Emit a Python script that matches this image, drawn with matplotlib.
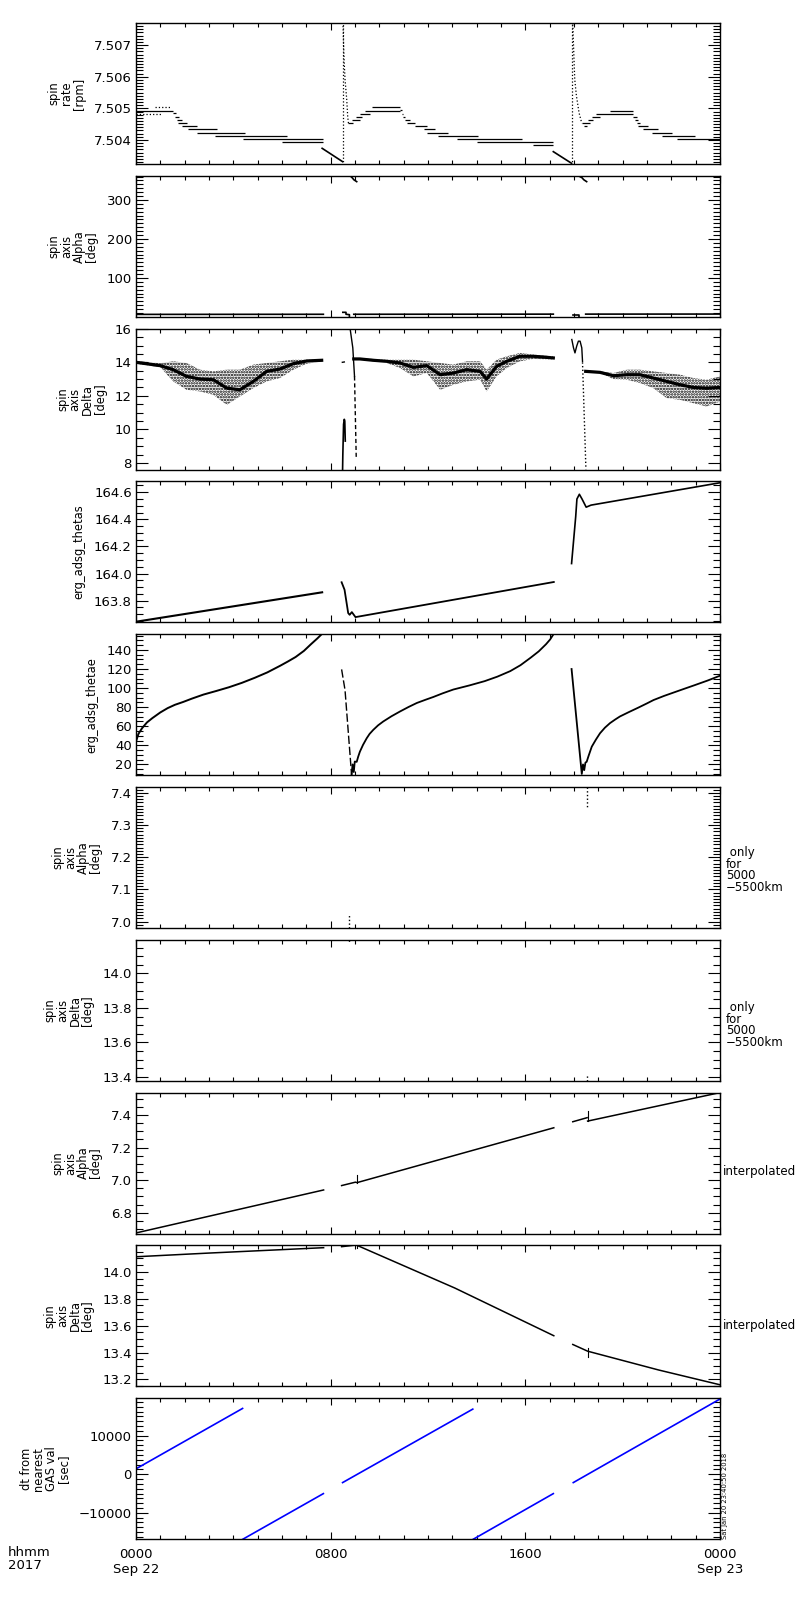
import matplotlib
matplotlib.use("Agg")
import matplotlib.pyplot as plt
from matplotlib.ticker import MultipleLocator, FixedLocator, FuncFormatter

plt.rcParams['font.family'] = ['DejaVu Sans']
plt.rcParams['axes.linewidth'] = 1.0
plt.rcParams['hatch.linewidth'] = 1.2

# ---------------- data ----------------
time_major_ticks = [0, 8, 16, 24]
time_major_labels = ['0000\nSep 22', '0800', '1600', '0000\nSep 23']

# Panel 1: spin rate [rpm] - quantised staircase
rate_step_t0 = [0.00, 1.53, 1.60, 1.67, 1.74, 1.88, 2.15, 2.49, 3.25, 4.41, 5.99,
                8.73, 8.86, 9.05, 9.21, 9.41, 9.69,
                10.85, 10.92, 10.99, 11.06, 11.12, 11.47, 11.85, 11.95, 12.43, 13.18, 14.00, 16.30,
                18.32, 18.40, 18.59, 18.73, 18.91, 19.48, 20.44, 20.51, 20.58, 20.65, 20.85,
                21.19, 21.61, 22.22]
rate_step_t1 = [1.53, 1.64, 1.77, 1.88, 2.08, 2.49, 3.31, 4.48, 6.19, 7.70, 7.70,
                8.93, 9.21, 9.30, 9.62, 10.85, 10.85,
                10.92, 10.99, 11.06, 11.26, 11.47, 11.95, 12.30, 12.84, 14.07, 15.85, 17.15, 17.15,
                18.66, 18.53, 18.80, 19.07, 20.44, 20.44, 20.58, 20.65, 20.71, 21.06, 21.47,
                22.02, 22.97, 24.00]
rate_step_v = [7.504916, 7.504842, 7.504737, 7.504632, 7.504526, 7.504442, 7.504337,
               7.504211, 7.504116, 7.504021, 7.503926,
               7.504526, 7.504632, 7.504726, 7.504811, 7.504916, 7.505032,
               7.504947, 7.504811, 7.504716, 7.504632, 7.504526, 7.504442, 7.504337,
               7.504211, 7.504116, 7.504021, 7.503926, 7.503832,
               7.504526, 7.504442, 7.504632, 7.504716, 7.504811, 7.504916, 7.504716,
               7.504632, 7.504526, 7.504442, 7.504337, 7.504211, 7.504116, 7.504021]
rate_dot_t0 = [0.78, 0.00]
rate_dot_t1 = [1.42, 1.05]
rate_dot_v = [7.505032, 7.504811]
rate_ramp1_t = [7.65, 8.49]
rate_ramp1_v = [7.503737, 7.503316]
rate_ramp2_t = [17.15, 17.90]
rate_ramp2_v = [7.503632, 7.503264]
rate_vert_t = [8.49, 17.92]
rate_spike1_t = [8.51, 8.53, 8.55, 8.59, 8.66, 8.70, 8.73]
rate_spike1_v = [7.50760, 7.50700, 7.50656, 7.50592, 7.50528, 7.50474, 7.50453]
rate_spike2_t = [17.95, 17.98, 18.00, 18.03, 18.10, 18.21, 18.32]
rate_spike2_v = [7.50765, 7.50700, 7.50656, 7.50592, 7.50539, 7.50485, 7.50453]

# Panel 2: spin axis alpha [deg] (full range)
alpha_seg1_t = [0.0, 7.70]
alpha_seg1_v = [6.68, 6.94]
alpha_seg2_t = [8.95, 17.15]
alpha_seg2_v = [6.98, 7.32]
alpha_seg3_t = [18.48, 24.0]
alpha_seg3_v = [7.37, 7.54]
alpha_wrap1_t = [8.80, 8.90, 8.95, 9.07]
alpha_wrap1_v = [362, 356, 352, 347]
alpha_wrap2_t = [18.21, 18.33, 18.40, 18.52]
alpha_wrap2_v = [361, 357, 352, 347]
alpha_blip1_t = [8.50, 8.63, 8.63, 8.77, 8.77]
alpha_blip1_v = [12, 12, 7, 6, 1]
alpha_blip2_t = [17.95, 18.20, 18.20]
alpha_blip2_v = [4, 4, 1]

# Panel 3: spin axis delta [deg] - noisy band (core, upper and lower envelope)
delta1_t = [0.0, 1.0, 1.53, 2.08, 2.63, 3.18, 3.73, 4.27, 4.82, 5.37, 5.92, 6.47, 7.02, 7.63]
delta1_core = [14.0, 13.8, 13.56, 13.16, 13.0, 12.96, 12.46, 12.36, 12.86, 13.46, 13.6, 13.92, 14.08, 14.12]
delta1_hi = [14.08, 13.95, 14.06, 13.96, 13.56, 13.46, 13.56, 13.56, 13.86, 13.96, 14.06, 14.16, 14.16, 14.16]
delta1_lo = [13.92, 13.70, 12.86, 12.36, 12.26, 12.06, 11.46, 11.96, 12.46, 12.86, 13.06, 13.56, 13.92, 14.04]
delta2_t = [8.95, 9.2, 9.75, 10.3, 10.85, 11.4, 11.95, 12.5, 13.04, 13.59, 14.14, 14.41, 14.82, 15.24, 15.78, 16.33, 17.15]
delta2_core = [14.2, 14.2, 14.12, 14.06, 13.96, 13.7, 13.8, 13.26, 13.36, 13.56, 13.46, 13.0, 13.76, 14.06, 14.36, 14.36, 14.26]
delta2_hi = [14.24, 14.24, 14.2, 14.16, 14.16, 14.16, 14.06, 13.96, 13.86, 14.06, 14.06, 13.56, 14.16, 14.36, 14.56, 14.46, 14.36]
delta2_lo = [14.16, 14.16, 14.06, 13.96, 13.66, 13.16, 13.36, 12.36, 12.66, 12.86, 12.96, 12.26, 13.16, 13.66, 14.06, 14.2, 14.16]
delta3_t = [18.48, 19.07, 19.62, 20.17, 20.71, 21.26, 21.81, 22.36, 22.91, 23.45, 24.0]
delta3_core = [13.46, 13.4, 13.2, 13.26, 13.26, 13.06, 12.86, 12.66, 12.5, 12.45, 12.5]
delta3_hi = [13.5, 13.46, 13.36, 13.56, 13.56, 13.46, 13.36, 13.26, 13.06, 12.96, 13.16]
delta3_lo = [13.42, 13.36, 13.0, 12.96, 12.76, 12.46, 11.86, 11.76, 11.56, 11.36, 11.66]
delta_sp1a_t = [8.49, 8.50, 8.53, 8.56, 8.58, 8.60]
delta_sp1a_v = [7.62, 8.5, 10.3, 10.6, 10.5, 9.3]
delta_sp1b_t = [8.78, 8.80, 8.91, 8.98]
delta_sp1b_v = [16.3, 16.0, 14.86, 13.16]
delta_sp1c_t = [8.98, 9.05]
delta_sp1c_v = [13.16, 8.36]
delta_dash1_t = [8.48, 8.56]
delta_dash1_v = [14.0, 14.02]
delta_sp2a_t = [17.91, 17.98, 18.04, 18.11, 18.18, 18.25, 18.32, 18.35]
delta_sp2a_v = [15.36, 14.86, 14.56, 14.96, 15.26, 15.26, 14.86, 14.06]
delta_sp2b_t = [18.35, 18.49]
delta_sp2b_v = [14.0, 7.62]

# Panel 4: erg_adsg_thetas
thetas1_t = [0.0, 7.65]
thetas1_v = [163.645, 163.862]
thetas2_t = [8.45, 8.57, 8.72, 8.78, 8.87, 9.02, 17.17]
thetas2_v = [163.936, 163.881, 163.709, 163.696, 163.716, 163.679, 163.938]
thetas3_t = [17.90, 18.07, 18.12, 18.22, 18.33, 18.50, 18.70, 24.0]
thetas3_v = [164.074, 164.42, 164.55, 164.585, 164.55, 164.49, 164.505, 164.67]

# Panel 5: erg_adsg_thetae
thetae1_t = [0.0, 0.1, 0.25, 0.45, 0.67, 1.0, 1.3, 1.6, 1.93, 2.3, 2.77, 3.3, 3.82, 4.35,
             4.88, 5.4, 5.93, 6.25, 6.56, 6.9, 7.19, 7.45, 7.65]
thetae1_v = [44.0, 52.0, 58.0, 64.0, 68.5, 74.5, 79.0, 82.5, 85.4, 89.0, 93.2, 97.0, 100.9, 105.5,
             110.8, 116.5, 123.5, 128.0, 132.6, 139.0, 146.0, 152.0, 157.0]
thetae_drop1_t = [8.45, 8.59, 8.86]
thetae_drop1_v = [119.6, 98.0, 9.0]
thetae2_t = [8.86, 8.90, 8.95, 8.99, 9.07, 9.13, 9.2, 9.33, 9.48, 9.6, 9.75, 9.95, 10.16, 10.5,
             10.85, 11.2, 11.54, 11.9, 12.22, 12.6, 13.04, 13.7, 14.33, 14.85, 15.38, 15.8,
             16.22, 16.55, 16.85, 17.02, 17.17]
thetae2_v = [9.0, 20.0, 12.0, 23.0, 22.7, 28.0, 33.3, 40.5, 47.4, 52.0, 56.2, 61.0, 65.0, 70.5,
             75.5, 80.2, 84.4, 87.8, 90.7, 94.5, 98.5, 102.8, 107.3, 112.0, 117.8, 124.0,
             131.9, 138.5, 146.0, 151.0, 157.0]
thetae3_t = [17.90, 18.32, 18.37, 18.42, 18.47, 18.52, 18.6, 18.73, 18.9, 19.07, 19.27, 19.48,
             19.7, 19.89, 20.25, 20.64, 21.0, 21.27, 21.7, 22.11, 22.5, 22.95, 23.5, 24.0]
thetae3_v = [120.0, 10.0, 20.0, 14.0, 22.0, 22.7, 29.0, 38.6, 46.0, 52.7, 58.5, 63.3,
             67.2, 70.3, 74.8, 79.5, 84.0, 87.5, 91.8, 95.5, 99.0, 103.0, 108.0, 113.0]

# Panel 6 / 7: 5000-5500 km only values
alpha5k_t = [[18.55, 18.55], [8.75, 8.75]]
alpha5k_v = [[7.418, 7.354], [6.98, 7.025]]
delta5k_t = [[8.75, 8.75], [18.55, 18.55]]
delta5k_v = [[14.195, 14.175], [13.378, 13.41]]

# Panel 8: interpolated alpha
ialpha1_t = [0.0, 7.71]
ialpha1_v = [6.676, 6.94]
ialpha2_t = [8.45, 9.02, 9.08, 17.17]
ialpha2_v = [6.967, 6.988, 6.985, 7.322]
ialpha3_t = [17.95, 18.54]
ialpha3_v = [7.359, 7.384]
ialpha4_t = [18.56, 24.0]
ialpha4_v = [7.363, 7.538]
ialpha_blip_t = [[9.08, 9.08], [18.56, 18.56]]
ialpha_blip_v = [[6.980, 7.033], [7.363, 7.425]]

# Panel 9: interpolated delta
idelta1_t = [0.0, 3.0, 7.71]
idelta1_v = [14.1125, 14.14, 14.18]
idelta2_t = [8.45, 9.05, 13.10, 17.17]
idelta2_v = [14.1875, 14.20, 13.88, 13.525]
idelta3_t = [17.95, 18.56, 21.48, 24.0]
idelta3_v = [13.46, 13.41, 13.27, 13.16]
idelta_blip_t = [[9.08, 9.08], [18.56, 18.56]]
idelta_blip_v = [[14.18, 14.21], [13.37, 13.43]]

# Panel 10: dt from nearest GAS value [sec]
dt_t0 = [0.0, 4.39, 8.49, 13.86, 17.97]
dt_t1 = [4.38, 7.70, 13.84, 17.15, 23.97]
dt_v0 = [1400, -16850, -2165, -16850, -2165]
dt_v1 = [17060, -5023, 16880, -5023, 19400]

# ---------------- layout ----------------
W, H = 800, 1600
fig = plt.figure(figsize=(8, 16), dpi=100)
L, R = 136, 720
ph = 141
axes = []
for i in range(10):
    top = 23 + 152.8 * i
    ax = fig.add_axes([L / W, 1 - (top + ph) / H, (R - L) / W, ph / H])
    axes.append(ax)


def fmt(f):
    return FuncFormatter(lambda v, p: (f % v).replace('-', '\u2212'))


def style(ax, ylim, major, minor, f, ylabel, last=False):
    ax.set_xlim(0, 24)
    ax.set_ylim(*ylim)
    ax.xaxis.set_major_locator(FixedLocator(time_major_ticks))
    ax.xaxis.set_minor_locator(MultipleLocator(1))
    ax.yaxis.set_major_locator(MultipleLocator(major))
    ax.yaxis.set_minor_locator(MultipleLocator(minor))
    ax.yaxis.set_major_formatter(fmt(f))
    ax.tick_params(axis='both', which='both', direction='in', top=True, right=True,
                   width=0.8, labelsize=9.5, pad=3)
    ax.tick_params(axis='y', which='major', length=8.6)
    ax.tick_params(axis='y', which='minor', length=4.7)
    ax.tick_params(axis='x', which='major', length=5)
    ax.tick_params(axis='x', which='minor', length=3)
    if last:
        ax.set_xticklabels(time_major_labels)
        ax.tick_params(axis='x', which='major', pad=6)
    else:
        ax.set_xticklabels([])
    ax.set_ylabel(ylabel, fontsize=8.3, linespacing=0.95, labelpad=6)


LW = 0.9
K = 'black'

# Panel 1
ax = axes[0]
ax.hlines(rate_step_v, rate_step_t0, rate_step_t1, colors=K, lw=LW)
ax.hlines(rate_dot_v, rate_dot_t0, rate_dot_t1, colors=K, lw=LW, linestyles=':')
ax.plot(rate_ramp1_t, rate_ramp1_v, color=K, lw=1.2)
ax.plot(rate_ramp2_t, rate_ramp2_v, color=K, lw=1.2)
for tv in rate_vert_t:
    ax.plot([tv, tv], [7.5032, 7.5078], color=K, lw=LW, ls=':')
ax.plot(rate_spike1_t, rate_spike1_v, color=K, lw=LW, ls=':')
ax.plot(rate_spike2_t, rate_spike2_v, color=K, lw=LW, ls=':')
style(ax, (7.503242, 7.507695), 0.001, 0.0001, '%.3f', 'spin\nrate\n[rpm]')

# Panel 2
ax = axes[1]
for tt, vv in [(alpha_seg1_t, alpha_seg1_v), (alpha_seg2_t, alpha_seg2_v),
               (alpha_seg3_t, alpha_seg3_v), (alpha_wrap1_t, alpha_wrap1_v),
               (alpha_wrap2_t, alpha_wrap2_v), (alpha_blip1_t, alpha_blip1_v),
               (alpha_blip2_t, alpha_blip2_v)]:
    ax.plot(tt, vv, color=K, lw=1.2)
style(ax, (0.5, 362), 100, 10, '%d', 'spin\naxis\nAlpha\n[deg]')

# Panel 3
ax = axes[2]
for tt, cc, hi, lo in [(delta1_t, delta1_core, delta1_hi, delta1_lo),
                       (delta2_t, delta2_core, delta2_hi, delta2_lo),
                       (delta3_t, delta3_core, delta3_hi, delta3_lo)]:
    ax.fill_between(tt, lo, hi, facecolor='none', edgecolor=K, hatch='......', linewidth=0)
    ax.plot(tt, cc, color=K, lw=2.3)
ax.plot(delta_sp1a_t, delta_sp1a_v, color=K, lw=1.2)
ax.plot(delta_sp1b_t, delta_sp1b_v, color=K, lw=1.0)
ax.plot(delta_sp1c_t, delta_sp1c_v, color=K, lw=1.0, ls=(0, (3, 2)))
ax.plot(delta_dash1_t, delta_dash1_v, color=K, lw=1.0)
ax.plot(delta_sp2a_t, delta_sp2a_v, color=K, lw=1.0)
ax.plot(delta_sp2b_t, delta_sp2b_v, color=K, lw=1.0, ls=':')
style(ax, (7.6, 16.01), 2, 0.5, '%d', 'spin\naxis\nDelta\n[deg]')

# Panel 4
ax = axes[3]
ax.plot(thetas1_t, thetas1_v, color=K, lw=1.5)
ax.plot(thetas2_t, thetas2_v, color=K, lw=1.3)
ax.plot(thetas3_t, thetas3_v, color=K, lw=1.2)
style(ax, (163.64, 164.68), 0.2, 0.05, '%.1f', 'erg_adsg_thetas')

# Panel 5
ax = axes[4]
ax.plot(thetae1_t, thetae1_v, color=K, lw=1.4)
ax.plot(thetae_drop1_t, thetae_drop1_v, color=K, lw=1.0, ls=(0, (6, 2)))
ax.plot(thetae2_t, thetae2_v, color=K, lw=1.3)
ax.plot(thetae3_t, thetae3_v, color=K, lw=1.3)
style(ax, (8.7, 156.5), 20, 5, '%d', 'erg_adsg_thetae')

# Panel 6
ax = axes[5]
for tt, vv in zip(alpha5k_t, alpha5k_v):
    ax.plot(tt, vv, color=K, lw=1.0, ls=':')
style(ax, (6.98, 7.418), 0.1, 0.01, '%.1f', 'spin\naxis\nAlpha\n[deg]')

# Panel 7
ax = axes[6]
for tt, vv in zip(delta5k_t, delta5k_v):
    ax.plot(tt, vv, color=K, lw=1.0, ls=':')
style(ax, (13.378, 14.195), 0.2, 0.05, '%.1f', 'spin\naxis\nDelta\n[deg]')

# Panel 8
ax = axes[7]
for tt, vv in [(ialpha1_t, ialpha1_v), (ialpha2_t, ialpha2_v),
               (ialpha3_t, ialpha3_v), (ialpha4_t, ialpha4_v)]:
    ax.plot(tt, vv, color=K, lw=1.1)
for tt, vv in zip(ialpha_blip_t, ialpha_blip_v):
    ax.plot(tt, vv, color=K, lw=0.8)
style(ax, (6.672, 7.538), 0.2, 0.05, '%.1f', 'spin\naxis\nAlpha\n[deg]')

# Panel 9
ax = axes[8]
for tt, vv in [(idelta1_t, idelta1_v), (idelta2_t, idelta2_v), (idelta3_t, idelta3_v)]:
    ax.plot(tt, vv, color=K, lw=1.1)
for tt, vv in zip(idelta_blip_t, idelta_blip_v):
    ax.plot(tt, vv, color=K, lw=0.8)
style(ax, (13.148, 14.197), 0.2, 0.05, '%.1f', 'spin\naxis\nDelta\n[deg]')

# Panel 10
ax = axes[9]
for a, b, c, d in zip(dt_t0, dt_t1, dt_v0, dt_v1):
    ax.plot([a, b], [c, d], color='#0000ff', lw=1.2)
style(ax, (-16840, 19714), 10000, 1250, '%d', 'dt from\nnearest\nGAS val\n[sec]', last=True)

# ---------------- side texts ----------------
fig.text(8 / W, 1 - 1546 / H, 'hhmm\n2017', ha='left', va='top', fontsize=9.5, linespacing=1.0)
for yc in (870, 1025):
    fig.text(726 / W, 1 - yc / H, ' only\nfor\n5000\n\u22125500km', ha='left', va='center',
             fontsize=8.5, linespacing=0.85)
for yc in (1172, 1325):
    fig.text(723 / W, 1 - yc / H, 'interpolated', ha='left', va='center', fontsize=8.6)
fig.text(725 / W, 1 - 1539 / H, 'Sat Jan 20 23:40:50 2018', rotation=90, ha='center',
         va='bottom', fontsize=4.9)

fig.savefig('out.png', dpi=100)
